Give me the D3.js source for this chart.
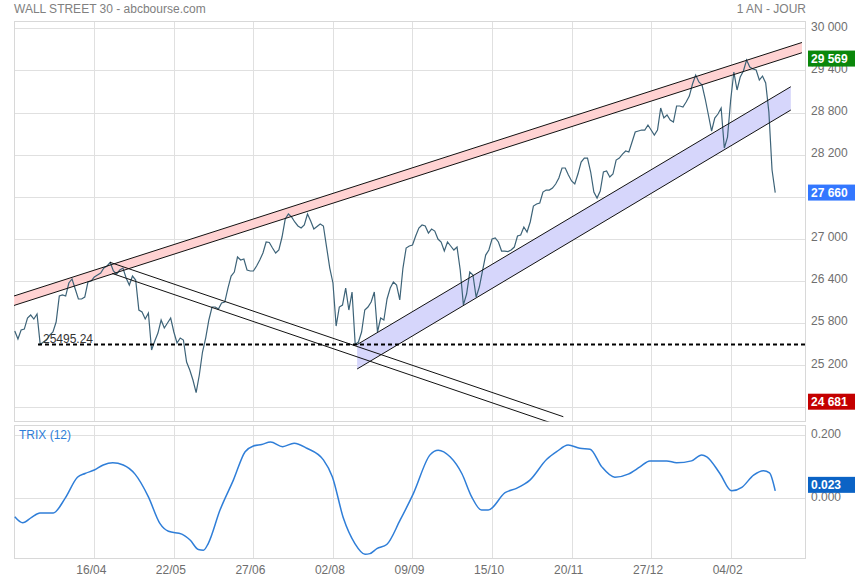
<!DOCTYPE html>
<html>
<head>
<meta charset="utf-8">
<title>WALL STREET 30</title>
<script src="https://cdn.jsdelivr.net/npm/d3@7"></script>
<style>
    body { margin: 0; background: #fff; }
    svg { display: block; font-family: "Liberation Sans", Arial, sans-serif; }
</style>
</head>
<body>
<svg id="chart" width="855" height="580"></svg>
<script>
const titleText = "WALL STREET 30 - abcbourse.com";
const periodText = "1 AN - JOUR";

// Date grid: trading-day index of each tick and its label
const tickIndex = [25, 50, 75, 100, 125, 150, 175, 200, 225];
const tickLabels = ["16/04", "22/05", "27/06", "02/08", "09/09", "15/10", "20/11", "27/12", "04/02"];

const priceTicks = [24600, 25200, 25800, 26400, 27000, 27600, 28200, 28800, 29400, 30000];
// grid lines whose labels sit fully under a value tag
const hiddenPriceLabels = [24600, 27600];
const trixTicks = [0, 0.2];

// Daily closes, one per trading day
const priceValues = [
    25688, 25574, 25702, 25716, 25873, 25916, 25859, 25930, 25495, 25531,
    25560, 25631, 25674, 25816, 26186, 26201, 26186, 26372, 26429, 26286,
    26144, 26144, 26172, 26386, 26400, 26457, 26486, 26514, 26585, 26614,
    26664, 26543, 26500, 26557, 26585, 26443, 26343, 26471, 26414, 25987,
    25959, 25859, 25944, 25417, 25545, 25659, 25845, 25731, 25802, 25873,
    25674, 25517, 25588, 25560, 25246, 25132, 24990, 24809, 25061, 25389,
    25588, 25845, 26030, 26030, 26001, 26087, 26101, 26300, 26471, 26528,
    26742, 26699, 26714, 26557, 26543, 26543, 26614, 26699, 26799, 26956,
    26949, 26870, 26799, 26842, 27027, 27283, 27355, 27312, 27241, 27184,
    27155, 27198, 27355, 27255, 27141, 27177, 27212, 27184, 26884, 26585,
    26372, 25759, 26030, 26058, 26300, 25987, 26243, 25495, 25531, 25674,
    25987, 26030, 26101, 26243, 25674, 25873, 25845, 26144, 26300, 26386,
    26343, 26130, 26585, 26870, 26899, 26913, 27041, 27155, 27198, 27184,
    27084, 27141, 27112, 26998, 26956, 26827, 26956, 26899, 26842, 26884,
    26557, 26060, 26215, 26528, 26486, 26170, 26315, 26543, 26770, 26842,
    26998, 27013, 26956, 26827, 26827, 26820, 26842, 26884, 27041, 27055,
    27169, 27098, 27241, 27468, 27497, 27511, 27668, 27696, 27696, 27725,
    27782, 27867, 28010, 28010, 27910, 27825, 27782, 27924, 28095, 28152,
    28152, 27953, 27668, 27582, 27682, 27953, 27967, 27882, 27924, 28124,
    28152, 28209, 28252, 28238, 28380, 28523, 28537, 28551, 28551, 28622,
    28551, 28480, 28551, 28864, 28722, 28765, 28694, 28665, 28893, 28893,
    28879, 28950, 29035, 29206, 29335, 29235, 29192, 28993, 28765, 28537,
    28722, 28779, 28864, 28295, 28451, 28978, 29377, 29121, 29306, 29392,
    29548, 29449, 29420, 29406, 29263, 29320, 29221, 28808, 27981, 27660
];

// TRIX (12), read at these trading-day positions
const trixIndex = [
    0, 2.5, 5.3, 7.9, 12.1, 15.8, 19.7, 22.1, 25.0, 27.8,
    30.8, 34.1, 37.8, 42.0, 45.6, 48.3, 52.5, 55.1, 57.7, 59.3,
    60.8, 64.5, 68.7, 72.4, 75.0, 77.6, 80.4, 84.2, 87.8, 91.8,
    97.0, 99.8, 103.3, 106.9, 110.1, 111.6, 113.8, 116.9, 121.1, 125.3,
    130.5, 133.1, 136.8, 140.5, 143.6, 146.7, 148.8, 154.1, 157.7, 161.9,
    167.2, 170.3, 173.9, 177.6, 180.8, 184.5, 188.6, 192.8, 196.5, 199.6,
    204.9, 208.0, 212.7, 215.9, 217.5, 221.6, 225.3, 228.5, 232.2, 235.3,
    237.2, 239
];
const trixValues = [
    -0.059, -0.078, -0.061, -0.047, -0.047, -0.001, 0.066, 0.078, 0.089, 0.105,
    0.112, 0.105, 0.076, 0.004, -0.080, -0.105, -0.114, -0.133, -0.163, -0.165,
    -0.144, -0.038, 0.057, 0.147, 0.165, 0.170, 0.178, 0.163, 0.174, 0.158,
    0.121, 0.068, -0.064, -0.144, -0.178, -0.176, -0.160, -0.147, -0.070, 0.015,
    0.137, 0.152, 0.131, 0.078, 0.004, -0.038, -0.038, 0.017, 0.031, 0.057,
    0.123, 0.147, 0.168, 0.158, 0.155, 0.099, 0.066, 0.076, 0.099, 0.118,
    0.118, 0.112, 0.118, 0.137, 0.131, 0.078, 0.023, 0.034, 0.073, 0.087,
    0.080, 0.023
];

// Drawn trend lines: [trading-day index, price] end points
const redUpper = [[-0.3, 26186], [247.4, 29798]];
const redLower = [[-0.3, 26051], [247.4, 29652]];
const blueUpper = [[107.6, 25495], [243.9, 29168]];
const blueLower = [[107.6, 25147], [243.9, 28836]];
const fallUpper = [[29.9, 26667], [172.4, 24467]];
const fallLower = [[30.6, 26508], [172.4, 24320]];

// Horizontal support level
const levelValue = 25495.24;
const levelStart = 7.3;

// Right-hand value tags: high, last, low
const priceTagValues = [29569, 27660, 24681];
const trixLast = 0.023;

const CHART = {
    selector: "#chart",
    left: 14,
    right: 806,
    xDomain: [-0.24, 248.67],
    price: { top: 21.5, bottom: 421.5, domain: [24399, 30097] },
    trix: { top: 425, bottom: 558.5, domain: [-0.1914, 0.2317] },
    tagColors: ["#0a870a", "#3377ff", "#c40000"],
    trixTagColor: "#0b63c5",
};

const locale = d3.formatLocale({ decimal: ".", thousands: " ", grouping: [3], currency: ["", ""] });
const fmtPrice = locale.format(",.0f");
const fmtTrix = d3.format(".3f");

function drawChart(chart) {
    const svg = d3.select(chart.selector);
    const x = d3.scaleLinear().domain(chart.xDomain).range([chart.left, chart.right]);
    const y = d3.scaleLinear().domain(chart.price.domain).range([chart.price.bottom, chart.price.top]);
    const yt = d3.scaleLinear().domain(chart.trix.domain).range([chart.trix.bottom, chart.trix.top]);
    const crisp = (v) => Math.round(v) + 0.5;
    const width = chart.right - chart.left;

    // Titles
    svg.append("text")
        .attr("x", chart.left).attr("y", 13)
        .attr("font-size", 12).attr("fill", "#808080")
        .text(titleText);
    svg.append("text")
        .attr("x", chart.right).attr("y", 13)
        .attr("text-anchor", "end")
        .attr("font-size", 12).attr("fill", "#808080")
        .text(periodText);

    // Clip paths for the two panels
    const defs = svg.append("defs");
    [["clip-price", chart.price], ["clip-trix", chart.trix]].forEach(([id, p]) => {
        defs.append("clipPath").attr("id", id)
            .append("rect")
            .attr("x", chart.left).attr("y", p.top)
            .attr("width", width).attr("height", p.bottom - p.top);
    });

    // Grid
    const grid = svg.append("g")
        .attr("stroke", "#e0e0e0")
        .attr("shape-rendering", "crispEdges");
    grid.selectAll(".hp").data(priceTicks).join("line")
        .attr("x1", chart.left).attr("x2", chart.right)
        .attr("y1", (d) => crisp(y(d))).attr("y2", (d) => crisp(y(d)));
    grid.selectAll(".ht").data(trixTicks).join("line")
        .attr("x1", chart.left).attr("x2", chart.right)
        .attr("y1", (d) => crisp(yt(d))).attr("y2", (d) => crisp(yt(d)));
    [chart.price, chart.trix].forEach((p) => {
        grid.append("g").selectAll("line").data(tickIndex).join("line")
            .attr("x1", (d) => crisp(x(d))).attr("x2", (d) => crisp(x(d)))
            .attr("y1", p.top).attr("y2", p.bottom);
        grid.append("rect")
            .attr("x", chart.left + 0.5).attr("y", p.top)
            .attr("width", width - 1).attr("height", p.bottom - p.top)
            .attr("fill", "none").attr("stroke", "#d8d8d8");
    });

    // Price panel
    const g = svg.append("g").attr("clip-path", "url(#clip-price)");
    const pt = (p) => [x(p[0]), y(p[1])];
    const band = (up, lo) => [up[0], up[1], lo[1], lo[0]].map(pt).join(" ");

    g.append("polygon").attr("points", band(redUpper, redLower)).attr("fill", "#ffd2d2");
    g.append("polygon").attr("points", band(blueUpper, blueLower)).attr("fill", "#d6d6fb");

    const line = d3.line().x((d, i) => x(i)).y((d) => y(d));
    g.append("path")
        .datum(priceValues)
        .attr("fill", "none")
        .attr("stroke", "#3d6378")
        .attr("stroke-width", 1.2)
        .attr("d", line);

    g.selectAll(".trend")
        .data([redUpper, redLower, blueUpper, blueLower, fallUpper, fallLower])
        .join("line")
        .attr("x1", (d) => x(d[0][0])).attr("y1", (d) => y(d[0][1]))
        .attr("x2", (d) => x(d[1][0])).attr("y2", (d) => y(d[1][1]))
        .attr("stroke", "#111")
        .attr("stroke-width", 1);

    // Support level
    g.append("line")
        .attr("x1", x(levelStart)).attr("x2", chart.right)
        .attr("y1", y(levelValue)).attr("y2", y(levelValue))
        .attr("stroke", "#000")
        .attr("stroke-width", 2)
        .attr("stroke-dasharray", "4,3");
    g.append("text")
        .attr("x", x(levelStart) + 5).attr("y", y(levelValue) - 1.5)
        .attr("font-size", 12).attr("fill", "#333")
        .text(levelValue.toFixed(2));

    // TRIX panel
    const gt = svg.append("g").attr("clip-path", "url(#clip-trix)");
    const trixLine = d3.line()
        .x((d) => x(d[0]))
        .y((d) => yt(d[1]))
        .curve(d3.curveMonotoneX);
    gt.append("path")
        .datum(d3.zip(trixIndex, trixValues))
        .attr("fill", "none")
        .attr("stroke", "#2f7ed8")
        .attr("stroke-width", 1.5)
        .attr("d", trixLine);
    svg.append("text")
        .attr("x", chart.left + 5).attr("y", chart.trix.top + 14)
        .attr("font-size", 12).attr("fill", "#2f7ed8")
        .text("TRIX (12)");

    // Axes
    const styleAxis = (sel) => {
        sel.select(".domain").remove();
        sel.selectAll("text").attr("fill", "#6e6e6e").attr("font-size", 12)
            .attr("font-family", "Liberation Sans, Arial, sans-serif");
    };
    const labelledTicks = priceTicks.filter((d) => !hiddenPriceLabels.includes(d));
    svg.append("g")
        .attr("transform", `translate(${chart.right},0)`)
        .call(d3.axisRight(y).tickValues(labelledTicks).tickSize(0).tickPadding(5).tickFormat(fmtPrice))
        .call(styleAxis)
        .selectAll("text").attr("dy", "0.15em");
    svg.append("g")
        .attr("transform", `translate(${chart.right},0)`)
        .call(d3.axisRight(yt).tickValues(trixTicks).tickSize(0).tickPadding(5).tickFormat(fmtTrix))
        .call(styleAxis)
        .selectAll("text").attr("dy", "0.18em");
    svg.append("g")
        .attr("transform", `translate(0,${chart.trix.bottom})`)
        .call(d3.axisBottom(x).tickValues(tickIndex).tickSize(0).tickPadding(7)
            .tickFormat((d, i) => tickLabels[i]))
        .call(styleAxis)
        .selectAll("text").attr("dx", -3.5);

    // Value tags
    const tag = (cy, color, label) => {
        svg.append("rect")
            .attr("x", chart.right + 2).attr("y", cy - 8)
            .attr("width", 855 - chart.right - 2).attr("height", 16)
            .attr("fill", color);
        svg.append("text")
            .attr("x", chart.right + 5).attr("y", cy + 4.5)
            .attr("font-size", 12).attr("font-weight", "bold").attr("fill", "#fff")
            .text(label);
    };
    priceTagValues.forEach((v, i) => tag(y(v), chart.tagColors[i], fmtPrice(v)));
    tag(yt(trixLast) - 6, chart.trixTagColor, fmtTrix(trixLast));
}

window.addEventListener("load", function () {
    drawChart(CHART);
});
</script>
</body>
</html>
